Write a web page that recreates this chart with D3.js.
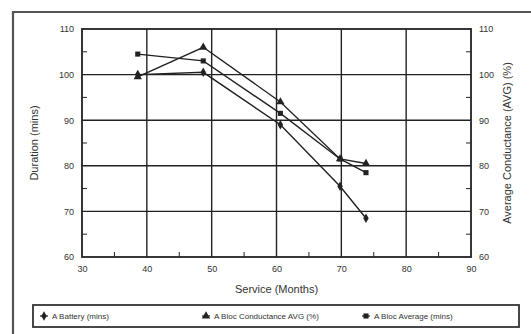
<!DOCTYPE html>
<html>
<head>
<meta charset="utf-8">
<script src="https://cdn.jsdelivr.net/npm/d3@7"></script>
<style>
  body { margin: 0; background: #fff; }
  svg { display: block; font-family: "Liberation Sans", Arial, sans-serif; }
</style>
</head>
<body>
<svg id="chart" width="531" height="334"></svg>
<script>
// values
const months = [38.6, 48.7, 60.6, 69.8, 73.8];
const battery = [100, 100.5, 89, 75.5, 68.5];
const conductance = [99.5, 106, 94, 81.5, 80.5];
const average = [104.5, 103, 91.5, 81.5, 78.5];
const xTicks = [30, 40, 50, 60, 70, 80, 90];
const yTicks = [60, 70, 80, 90, 100, 110];

const series = [
  { name: "A Battery (mins)", values: battery, marker: "diamond" },
  { name: "A Bloc Conductance AVG (%)", values: conductance, marker: "triangle" },
  { name: "A Bloc Average (mins)", values: average, marker: "square" }
];

const svg = d3.select("#chart");
const plotLeft = 82, plotRight = 471, plotTop = 29, plotBottom = 257;
const ink = "#222";

// outer frame of the scanned figure
svg.append("path")
  .attr("d", "M13,340 L13,12 L540,12")
  .attr("fill", "none").attr("stroke", "#555").attr("stroke-width", 2.2);

const x = d3.scaleLinear().domain([30, 90]).range([plotLeft, plotRight]);
const y = d3.scaleLinear().domain([60, 110]).range([plotBottom, plotTop]);

// grid
svg.append("g").selectAll("line").data(xTicks.slice(1, -1)).join("line")
  .attr("x1", d => x(d)).attr("x2", d => x(d))
  .attr("y1", plotTop).attr("y2", plotBottom)
  .attr("stroke", ink).attr("stroke-width", 1.4);
svg.append("g").selectAll("line").data(yTicks.slice(1, -1)).join("line")
  .attr("x1", plotLeft).attr("x2", plotRight)
  .attr("y1", d => y(d)).attr("y2", d => y(d))
  .attr("stroke", ink).attr("stroke-width", 1.4);

svg.append("rect")
  .attr("x", plotLeft).attr("y", plotTop)
  .attr("width", plotRight - plotLeft).attr("height", plotBottom - plotTop)
  .attr("fill", "none").attr("stroke", ink).attr("stroke-width", 1.8);

// axes (ticks point inward)
const minorY = d3.range(65, 110, 10);
const minorX = d3.range(35, 90, 10);

const leftAxis = svg.append("g").attr("transform", `translate(${plotLeft},0)`)
  .call(d3.axisLeft(y).tickValues(yTicks).tickSize(0).tickPadding(8));
const rightAxis = svg.append("g").attr("transform", `translate(${plotRight},0)`)
  .call(d3.axisRight(y).tickValues(yTicks).tickSize(0).tickPadding(8));
const bottomAxis = svg.append("g").attr("transform", `translate(0,${plotBottom})`)
  .call(d3.axisBottom(x).tickValues(xTicks).tickSize(0).tickPadding(9));

[leftAxis, rightAxis, bottomAxis].forEach(g => {
  g.select(".domain").remove();
  g.selectAll("text").attr("font-size", 9).attr("fill", "#333");
});

svg.append("g").selectAll("line").data(minorY).join("line")
  .attr("x1", plotLeft).attr("x2", plotLeft + 5)
  .attr("y1", d => y(d)).attr("y2", d => y(d))
  .attr("stroke", ink).attr("stroke-width", 1);
svg.append("g").selectAll("line").data(minorY).join("line")
  .attr("x1", plotRight - 5).attr("x2", plotRight)
  .attr("y1", d => y(d)).attr("y2", d => y(d))
  .attr("stroke", ink).attr("stroke-width", 1);
svg.append("g").selectAll("line").data(minorX).join("line")
  .attr("x1", d => x(d)).attr("x2", d => x(d))
  .attr("y1", plotBottom - 5).attr("y2", plotBottom)
  .attr("stroke", ink).attr("stroke-width", 1);

// axis titles
svg.append("text")
  .attr("transform", `translate(38,${(plotTop + plotBottom) / 2}) rotate(-90)`)
  .attr("text-anchor", "middle").attr("font-size", 11).attr("fill", "#333")
  .text("Duration (mins)");
svg.append("text")
  .attr("transform", `translate(511,${(plotTop + plotBottom) / 2}) rotate(-90)`)
  .attr("text-anchor", "middle").attr("font-size", 11).attr("fill", "#333")
  .text("Average Conductance (AVG) (%)");
svg.append("text")
  .attr("x", (plotLeft + plotRight) / 2).attr("y", 293)
  .attr("text-anchor", "middle").attr("font-size", 11).attr("fill", "#333")
  .text("Service (Months)");

// markers
const symbolType = { diamond: d3.symbolDiamond, triangle: d3.symbolTriangle, square: d3.symbolSquare };
const symbolSize = { diamond: 26, triangle: 30, square: 26 };

const line = d3.line().x(d => x(d[0])).y(d => y(d[1]));

series.forEach(s => {
  const pts = months.map((m, i) => [m, s.values[i]]);
  svg.append("path")
    .attr("d", line(pts))
    .attr("fill", "none").attr("stroke", ink).attr("stroke-width", 1.4);
  svg.append("g").selectAll("path").data(pts).join("path")
    .attr("transform", d => `translate(${x(d[0])},${y(d[1])})`)
    .attr("d", d3.symbol(symbolType[s.marker], symbolSize[s.marker]))
    .attr("fill", ink);
});

// legend
const legend = svg.append("g");
legend.append("rect")
  .attr("x", 33).attr("y", 305).attr("width", 486).attr("height", 22)
  .attr("fill", "#fff").attr("stroke", "#333").attr("stroke-width", 1.8);
const legendX = [44, 206, 366];
series.forEach((s, i) => {
  const g = legend.append("g").attr("transform", `translate(${legendX[i]},316)`);
  g.append("line").attr("x1", -4).attr("x2", 4).attr("stroke", ink).attr("stroke-width", 1.2);
  g.append("path")
    .attr("d", d3.symbol(symbolType[s.marker], symbolSize[s.marker]))
    .attr("fill", ink);
  g.append("text")
    .attr("x", 8).attr("y", 3).attr("font-size", 8).attr("fill", "#333")
    .text(s.name);
});
</script>
</body>
</html>
